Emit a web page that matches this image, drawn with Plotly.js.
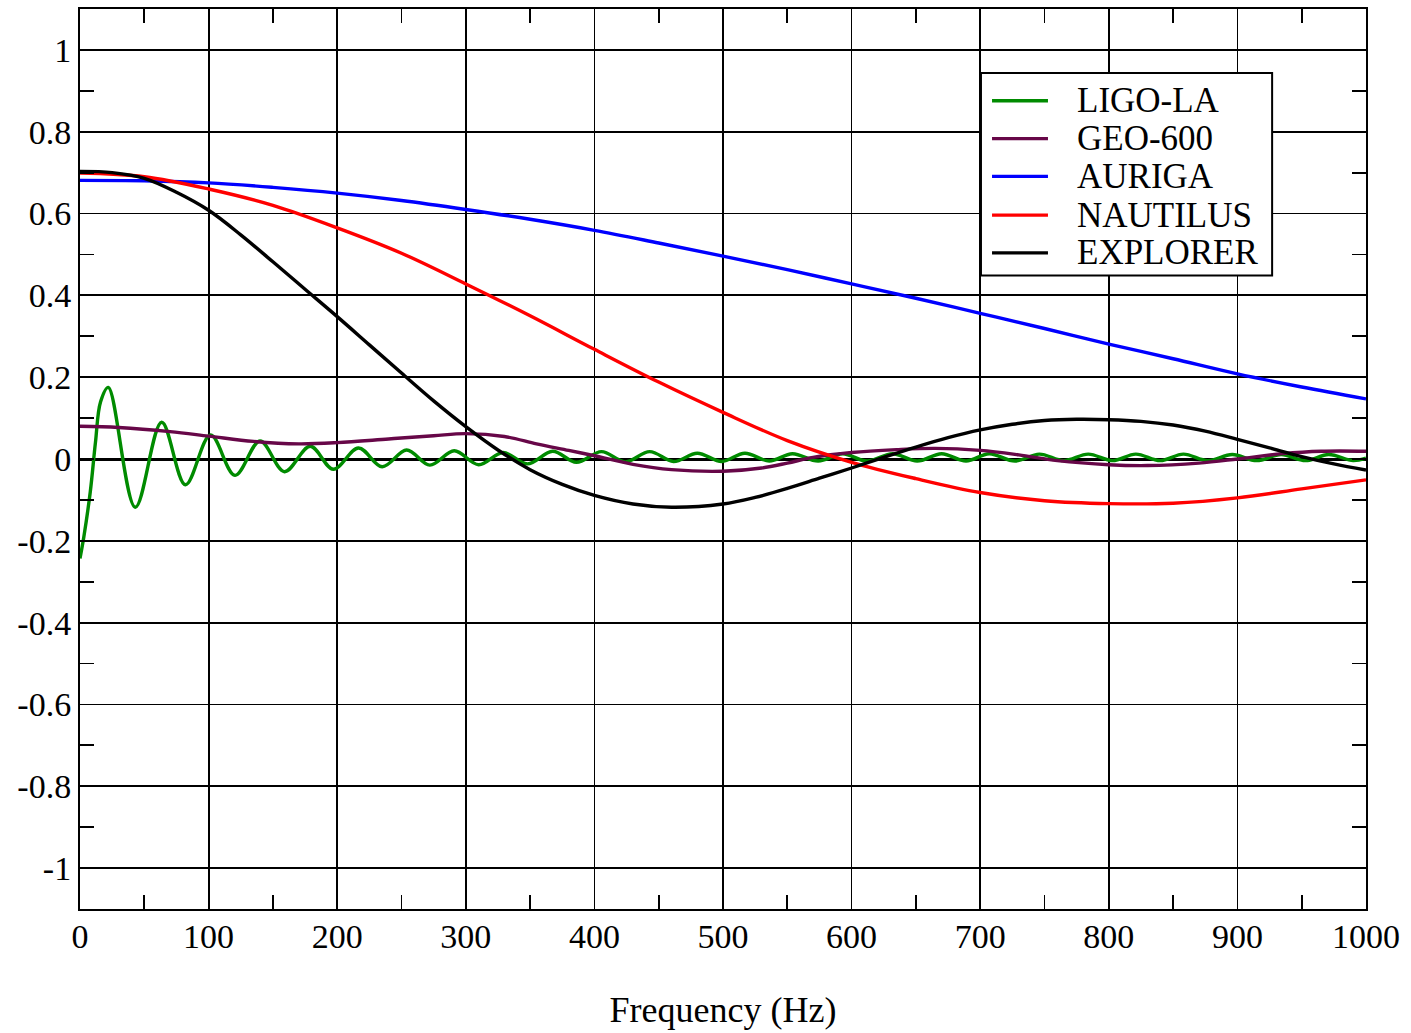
<!DOCTYPE html>
<html>
<head>
<meta charset="utf-8">
<script src="https://cdn.plot.ly/plotly-3.0.1.min.js"></script>
<style>
  html, body { margin: 0; padding: 0; background: #ffffff; }
  #chart { width: 1411px; height: 1033px; }
</style>
</head>
<body>
<div id="chart"></div>
<script>
// Detector response versus frequency, five detectors.
const seriesNames = ["LIGO-LA", "GEO-600", "AURIGA", "NAUTILUS", "EXPLORER"];
const seriesColors = ["#008b00", "#670748", "#0000ff", "#ff0000", "#000000"];

// LIGO-LA: damped ringing around zero (extrema of the curve)
const ligoFreq = [0, 3, 8, 12, 16, 22, 43, 63.5, 82, 101.5, 120.5, 140, 159, 179, 197, 216.5,
  235, 254, 272, 291, 310, 329, 348, 367.5, 386, 405.5, 424, 443, 461.5, 480, 499, 517, 536,
  554, 574, 593, 612, 632, 651, 670, 689, 707, 727, 746, 765, 784, 803, 821, 840, 858, 877,
  896, 915, 934, 953, 971, 990, 1000];
const ligoVal = [-0.243, -0.19, -0.08, 0.04, 0.14, 0.175, -0.118, 0.090, -0.063, 0.059, -0.040,
  0.044, -0.031, 0.031, -0.025, 0.027, -0.019, 0.022, -0.015, 0.020, -0.014, 0.016, -0.012,
  0.019, -0.008, 0.018, -0.007, 0.018, -0.006, 0.014, -0.006, 0.014, -0.005, 0.013, -0.005,
  0.013, -0.005, 0.013, -0.005, 0.013, -0.005, 0.013, -0.005, 0.012, -0.004, 0.012, -0.004,
  0.012, -0.004, 0.012, -0.004, 0.011, -0.004, 0.011, -0.004, 0.011, -0.004, 0.002];

// GEO-600
const geoFreq = [0, 30, 70, 100, 135, 170, 200, 240, 275, 300, 330, 355, 380, 400, 430, 460,
  500, 530, 550, 570, 600, 635, 665, 700, 730, 760, 800, 830, 870, 900, 935, 965, 1000];
const geoVal = [0.080, 0.077, 0.067, 0.056, 0.043, 0.037, 0.040, 0.049, 0.057, 0.062, 0.055,
  0.037, 0.021, 0.008, -0.013, -0.026, -0.030, -0.022, -0.010, 0.004, 0.016, 0.023, 0.026,
  0.021, 0.010, -0.004, -0.014, -0.016, -0.010, 0.000, 0.013, 0.019, 0.019];

// AURIGA
const aurigaFreq = [0, 50, 100, 150, 200, 250, 300, 350, 400, 450, 500, 550, 600, 650, 700,
  750, 800, 850, 900, 950, 1000];
const aurigaVal = [0.681, 0.680, 0.675, 0.664, 0.650, 0.632, 0.610, 0.586, 0.559, 0.528, 0.496,
  0.463, 0.428, 0.393, 0.356, 0.319, 0.281, 0.245, 0.208, 0.176, 0.147];

// NAUTILUS
const nautilusFreq = [0, 50, 100, 150, 200, 250, 300, 350, 400, 450, 500, 550, 600, 650, 700,
  750, 800, 850, 900, 950, 1000];
const nautilusVal = [0.699, 0.690, 0.660, 0.620, 0.565, 0.503, 0.428, 0.350, 0.268, 0.188,
  0.114, 0.045, -0.008, -0.048, -0.082, -0.102, -0.109, -0.108, -0.095, -0.073, -0.051];

// EXPLORER
const explorerFreq = [0, 25, 50, 75, 100, 125, 150, 175, 200, 225, 250, 275, 300, 325, 350,
  375, 400, 430, 460, 500, 525, 550, 575, 600, 625, 650, 675, 700, 725, 750, 775, 800, 825,
  850, 875, 900, 925, 950, 975, 1000];
const explorerVal = [0.703, 0.700, 0.686, 0.652, 0.608, 0.548, 0.482, 0.415, 0.348, 0.279,
  0.210, 0.142, 0.079, 0.022, -0.026, -0.062, -0.089, -0.110, -0.118, -0.110, -0.094, -0.072,
  -0.047, -0.022, 0.004, 0.029, 0.052, 0.071, 0.085, 0.094, 0.097, 0.096, 0.092, 0.083, 0.068,
  0.048, 0.027, 0.006, -0.012, -0.027];

// Axis ticks
const xTickVals = [0, 100, 200, 300, 400, 500, 600, 700, 800, 900, 1000];
const xTickText = ["0", "100", "200", "300", "400", "500", "600", "700", "800", "900", "1000"];
const yTickVals = [-1, -0.8, -0.6, -0.4, -0.2, 0, 0.2, 0.4, 0.6, 0.8, 1];
const yTickText = ["-1", "-0.8", "-0.6", "-0.4", "-0.2", "0", "0.2", "0.4", "0.6", "0.8", "1"];

const xs = [ligoFreq, geoFreq, aurigaFreq, nautilusFreq, explorerFreq];
const ys = [ligoVal, geoVal, aurigaVal, nautilusVal, explorerVal];

const FONT = "Liberation Serif, Times New Roman, serif";

const traces = seriesNames.map((name, i) => ({
  type: "scatter",
  mode: "lines",
  name: name,
  x: xs[i],
  y: ys[i],
  line: { color: seriesColors[i], width: 3.4, shape: "spline", smoothing: 1 },
  showlegend: false,
  hoverinfo: "skip"
}));

// Boxed key in the upper right
const keyLeft = 0.7006, keyRight = 0.927, keyTop = 0.929, keyBottom = 0.704;
const rowY = [0.898, 0.856, 0.814, 0.771, 0.729];
const shapes = [{
  type: "rect", xref: "paper", yref: "paper",
  x0: keyLeft, x1: keyRight, y0: keyBottom, y1: keyTop,
  line: { color: "#000000", width: 2 }, fillcolor: "#ffffff", layer: "above"
}];
const annotations = [];
seriesNames.forEach((name, i) => {
  shapes.push({
    type: "line", xref: "paper", yref: "paper",
    x0: 0.7092, x1: 0.7527, y0: rowY[i], y1: rowY[i],
    line: { color: seriesColors[i], width: 3.4 }, layer: "above"
  });
  annotations.push({
    xref: "paper", yref: "paper", x: 0.7737, y: rowY[i],
    xanchor: "left", yanchor: "middle", showarrow: false,
    text: name, font: { family: FONT, size: 35, color: "#000000" }
  });
});

const axisCommon = {
  showline: true, linecolor: "#000000", linewidth: 2, mirror: "allticks",
  showgrid: true, gridcolor: "#000000", gridwidth: 1.8,
  ticks: "inside", ticklen: 14, tickwidth: 1.8, tickcolor: "#000000",
  tickfont: { family: FONT, size: 34, color: "#000000" },
  tickmode: "array"
};

const layout = {
  width: 1411, height: 1033, autosize: false,
  paper_bgcolor: "#ffffff", plot_bgcolor: "#ffffff",
  margin: { l: 80, r: 45, t: 9, b: 124 },
  font: { family: FONT, color: "#000000" },
  xaxis: Object.assign({}, axisCommon, {
    range: [0, 1000],
    tickvals: xTickVals, ticktext: xTickText,
    ticklabelstandoff: -4,
    minor: { dtick: 50, tick0: 0, ticks: "inside", ticklen: 14, tickwidth: 1.8, tickcolor: "#000000", showgrid: false },
    zeroline: false,
    title: { text: "Frequency (Hz)", font: { family: FONT, size: 36, color: "#000000" }, standoff: 43 }
  }),
  yaxis: Object.assign({}, axisCommon, {
    range: [-1.1, 1.1],
    tickvals: yTickVals, ticktext: yTickText,
    minor: { dtick: 0.1, tick0: 0, ticks: "inside", ticklen: 14, tickwidth: 1.8, tickcolor: "#000000", showgrid: false },
    zeroline: true, zerolinecolor: "#000000", zerolinewidth: 3
  }),
  shapes: shapes,
  annotations: annotations,
  showlegend: false
};

Plotly.newPlot("chart", traces, layout, { staticPlot: true, displayModeBar: false });
</script>
</body>
</html>
